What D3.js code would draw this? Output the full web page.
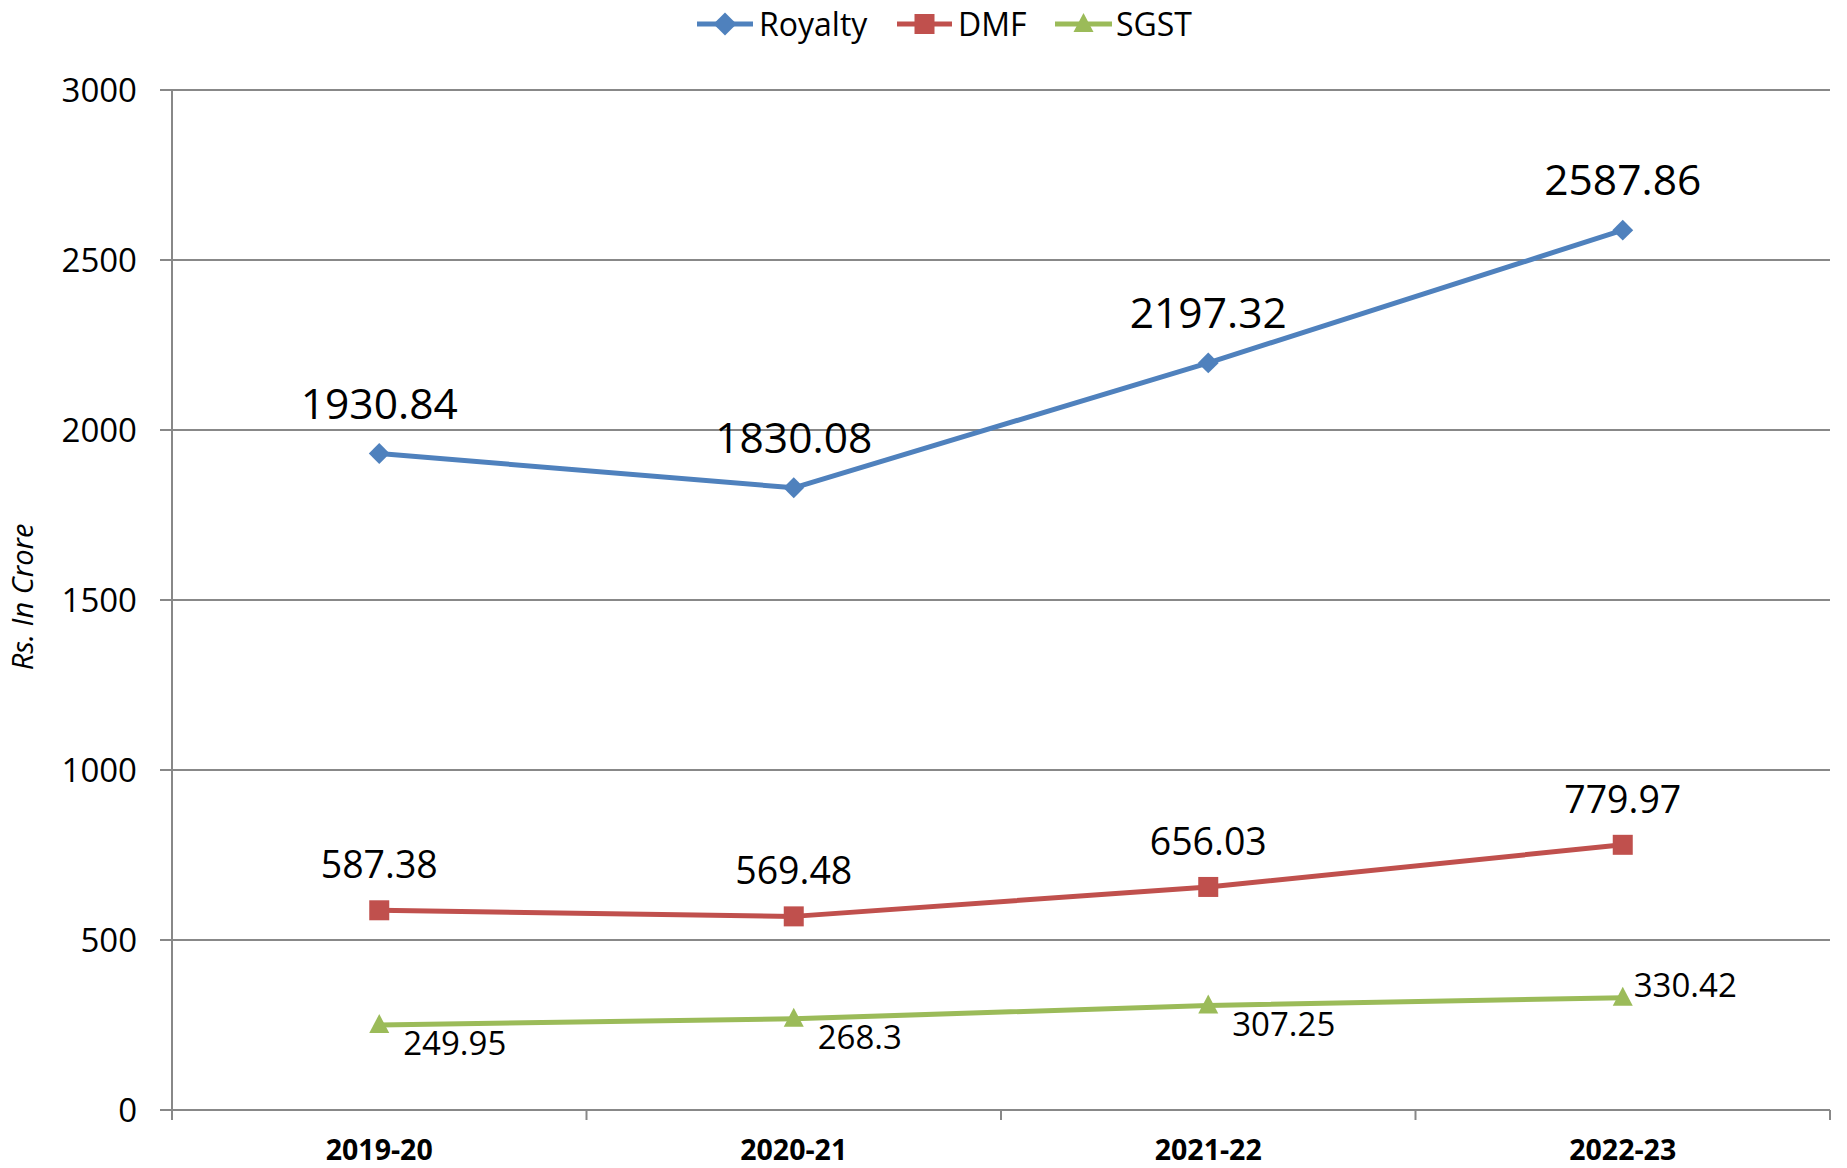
<!DOCTYPE html>
<html>
<head>
<meta charset="utf-8">
<script src="https://cdn.jsdelivr.net/npm/d3@7"></script>
<style>
html,body{margin:0;padding:0;background:#fff;}
svg{display:block;font-family:"Open Sans",sans-serif;}
</style>
</head>
<body>
<svg id="chart" width="1847" height="1168"></svg>
<script>
const categories = ["2019-20", "2020-21", "2021-22", "2022-23"];
const royalty = [1930.84, 1830.08, 2197.32, 2587.86];
const dmf = [587.38, 569.48, 656.03, 779.97];
const sgst = [249.95, 268.3, 307.25, 330.42];
const yTicks = [0, 500, 1000, 1500, 2000, 2500, 3000];
const seriesNames = ["Royalty", "DMF", "SGST"];
const seriesColors = ["#4F81BD", "#C0504D", "#9BBB59"];

(function () {
const svg = d3.select("#chart");
const pLeft = 172, pRight = 1830, pTop = 90, pBottom = 1110;

const x = d3.scaleBand().domain(categories).range([pLeft, pRight]).paddingInner(0).paddingOuter(0);
const y = d3.scaleLinear().domain([0, 3000]).range([pBottom, pTop]);
const cx = c => x(c) + x.bandwidth() / 2;

// gridlines
svg.append("g").selectAll("line").data(yTicks).join("line")
  .attr("x1", pLeft - 12).attr("x2", pRight)
  .attr("y1", d => y(d)).attr("y2", d => y(d))
  .attr("stroke", "#888").attr("stroke-width", 2);

// y axis line
svg.append("line").attr("x1", pLeft).attr("x2", pLeft).attr("y1", pTop).attr("y2", pBottom + 10)
  .attr("stroke", "#888").attr("stroke-width", 2);

// x ticks
const xTickPos = categories.map(c => x(c)).concat([pRight]);
svg.append("g").selectAll("line").data(xTickPos).join("line")
  .attr("x1", d => d).attr("x2", d => d).attr("y1", pBottom).attr("y2", pBottom + 10)
  .attr("stroke", "#888").attr("stroke-width", 2);

// y tick labels
svg.append("g").selectAll("text").data(yTicks).join("text")
  .attr("x", 137).attr("y", d => y(d)).attr("dy", "0.35em")
  .attr("text-anchor", "end").attr("font-size", 33).attr("fill", "#000")
  .text(d => d);

// x labels
svg.append("g").selectAll("text").data(categories).join("text")
  .attr("x", d => cx(d)).attr("y", 1160)
  .attr("text-anchor", "middle").attr("font-size", 28.5).attr("font-weight", "bold").attr("fill", "#000")
  .text(d => d);

// y axis title
svg.append("text").attr("transform", "translate(33,597) rotate(-90)")
  .attr("text-anchor", "middle").attr("font-size", 29).attr("font-style", "italic").attr("fill", "#000")
  .text("Rs. In Crore");

const line = d3.line().x((d, i) => cx(categories[i])).y(d => y(d));
const allSeries = [royalty, dmf, sgst];

allSeries.forEach((s, k) => {
  svg.append("path").datum(s).attr("d", line)
    .attr("fill", "none").attr("stroke", seriesColors[k]).attr("stroke-width", 5)
    .attr("stroke-linejoin", "round");
});

function marker(g, k, px, py, size) {
  if (k === 0) {
    const h = size * 0.55;
    g.append("path").attr("d", `M${px},${py - h}L${px + h},${py}L${px},${py + h}L${px - h},${py}Z`)
      .attr("fill", seriesColors[k]);
  } else if (k === 1) {
    g.append("rect").attr("x", px - 10).attr("y", py - 10).attr("width", 20).attr("height", 20)
      .attr("fill", seriesColors[k]);
  } else {
    g.append("path").attr("d", `M${px},${py - 11}L${px + 10},${py + 8}L${px - 10},${py + 8}Z`)
      .attr("fill", seriesColors[k]);
  }
}

const mg = svg.append("g");
allSeries.forEach((s, k) => {
  s.forEach((v, i) => marker(mg, k, cx(categories[i]), y(v), 19));
});

// data labels
const lg = svg.append("g");
royalty.forEach((v, i) => {
  lg.append("text").attr("x", cx(categories[i])).attr("y", y(v) - 35)
    .attr("text-anchor", "middle").attr("font-size", 42.5).attr("fill", "#000").text(v);
});
dmf.forEach((v, i) => {
  lg.append("text").attr("x", cx(categories[i])).attr("y", y(v) - 32)
    .attr("text-anchor", "middle").attr("font-size", 37.5).attr("fill", "#000").text(v);
});
sgst.forEach((v, i) => {
  const last = i === sgst.length - 1;
  lg.append("text").attr("x", cx(categories[i]) + (last ? 11 : 24))
    .attr("y", last ? y(v) - 1 : y(v) + 30)
    .attr("text-anchor", "start").attr("font-size", 33).attr("fill", "#000").text(v);
});

// legend
const legendItems = [
  {lx1: 697, lx2: 753, tx: 759},
  {lx1: 897, lx2: 952, tx: 958},
  {lx1: 1055, lx2: 1112, tx: 1116}
];
const leg = svg.append("g");
legendItems.forEach((it, k) => {
  leg.append("line").attr("x1", it.lx1).attr("x2", it.lx2).attr("y1", 24).attr("y2", 24)
    .attr("stroke", seriesColors[k]).attr("stroke-width", 5);
  marker(leg, k, (it.lx1 + it.lx2) / 2, 24, 21);
  leg.append("text").attr("x", it.tx).attr("y", 36).attr("font-size", 32).attr("fill", "#000")
    .text(seriesNames[k]);
});
})();
</script>
</body>
</html>
